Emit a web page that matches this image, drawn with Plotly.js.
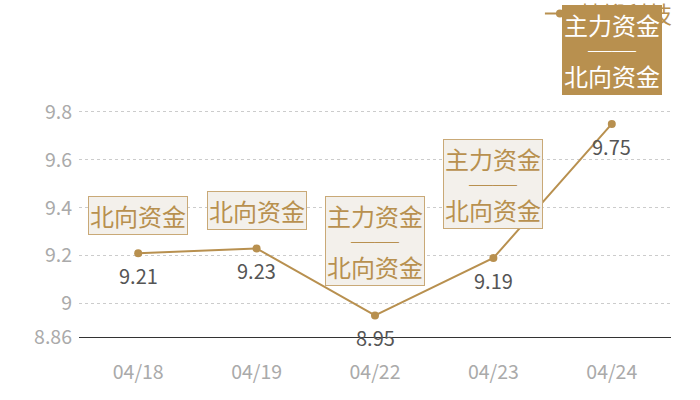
<!DOCTYPE html>
<html>
<head>
<meta charset="utf-8">
<script src="https://cdn.plot.ly/plotly-3.0.1.min.js"></script>
<style>
  html, body { margin: 0; padding: 0; background: #fff; }
  #chart { width: 700px; height: 400px; }
</style>
</head>
<body>
<div id="chart"></div>
<script>
var dates = ['04/18', '04/19', '04/22', '04/23', '04/24'];
var prices = [9.21, 9.23, 8.95, 9.19, 9.75];
// each tag: one or two lines of fund-flow labels
var tagTop = ['', '', '主力资金', '主力资金', '主力资金'];
var tagBottom = ['北向资金', '北向资金', '北向资金', '北向资金', '北向资金'];
var highlight = [false, false, false, false, true];
var yTicks = [8.86, 9, 9.2, 9.4, 9.6, 9.8, 9.85];
var yTickText = ['8.86', '9', '9.2', '9.4', '9.6', '9.8', ''];

var gold = '#b8904f';
var font = '"Noto Sans CJK SC", "Noto Sans", sans-serif';

var trace = {
  x: dates,
  y: prices,
  name: '精锻科技',
  type: 'scatter',
  mode: 'lines+markers',
  line: { color: gold, width: 2 },
  marker: { color: gold, size: 8 },
  hoverinfo: 'skip'
};

function big(s) { return '<span style="font-size:24px">' + s + '</span>'; }

var annotations = [];
dates.forEach(function (d, i) {
  var two = tagTop[i] !== '';
  var txt = two ? big(tagTop[i]) + '<br>' + big('<b>──</b>') + '<br>' + big(tagBottom[i]) : tagBottom[i];
  annotations.push({
    x: d, y: prices[i], xref: 'x', yref: 'y',
    text: txt,
    showarrow: false,
    yanchor: 'bottom',
    yshift: two ? 29 : 18,
    font: { family: font, size: two ? 19.5 : 24, color: highlight[i] ? '#ffffff' : gold },
    bgcolor: highlight[i] ? gold : '#f3f0eb',
    bordercolor: highlight[i] ? gold : '#c9a977',
    borderwidth: 1,
    borderpad: 1
  });
  annotations.push({
    x: d, y: prices[i], xref: 'x', yref: 'y',
    text: String(prices[i]),
    showarrow: false,
    yanchor: 'top',
    yshift: -6,
    font: { family: font, size: 20, color: '#555555' }
  });
});

var layout = {
  width: 700,
  height: 400,
  margin: { l: 79, r: 29, t: 100, b: 63, autoexpand: false },
  paper_bgcolor: '#ffffff',
  plot_bgcolor: '#ffffff',
  font: { family: font, color: '#aaaaaa' },
  showlegend: true,
  legend: {
    orientation: 'h',
    x: 1.01, xanchor: 'right',
    y: 1.455, yanchor: 'top',
    font: { family: font, size: 23, color: gold },
    bgcolor: 'rgba(0,0,0,0)'
  },
  xaxis: {
    type: 'category',
    range: [-0.5, 4.5],
    showgrid: false,
    showline: true,
    linecolor: '#333333',
    linewidth: 1,
    zeroline: false,
    ticks: '',
    ticklabelstandoff: 18,
    tickfont: { family: font, size: 19.5, color: '#aaaaaa' }
  },
  yaxis: {
    range: [8.86, 9.85],
    tickmode: 'array',
    tickvals: yTicks,
    ticktext: yTickText,
    showgrid: true,
    gridcolor: '#cccccc',
    griddash: 'dot',
    gridwidth: 1,
    zeroline: false,
    showline: false,
    ticks: '',
    ticklabelstandoff: 6,
    tickfont: { family: font, size: 19.5, color: '#aaaaaa' }
  },
  annotations: annotations
};

Plotly.newPlot('chart', [trace], layout, { displayModeBar: false, staticPlot: true });
</script>
</body>
</html>
